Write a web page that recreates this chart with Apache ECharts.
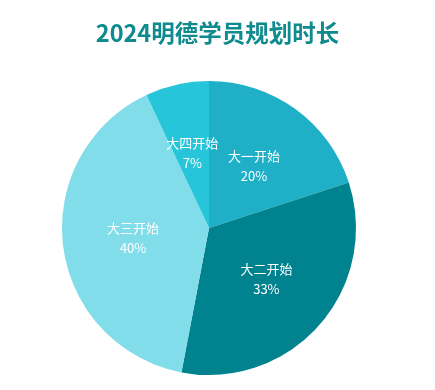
<!DOCTYPE html>
<html><head><meta charset="utf-8">
<script src="https://cdn.jsdelivr.net/npm/echarts@6/dist/echarts.min.js"></script>
<style>html,body{margin:0;padding:0;background:#fff}#c{width:435px;height:390px}</style>
</head><body><div id="c"></div>
<script>
const titleText = '2024明德学员规划时长';
const categories = ['大一开始', '大二开始', '大三开始', '大四开始'];
const values = [20, 33, 40, 7];
const colors = ['#1fb0c8', '#00838f', '#80dde9', '#26c5da'];

const chart = echarts.init(document.getElementById('c'));
chart.setOption({
  animation: false,
  title: {
    text: titleText, left: 'center', top: 16,
    textStyle: { fontFamily: 'Noto Sans CJK SC', fontWeight: 'bold', fontSize: 23.5, color: '#0f8a8f' }
  },
  series: [{
    type: 'pie',
    center: [209, 228],
    radius: 147,
    startAngle: 90,
    clockwise: true,
    color: colors,
    itemStyle: { borderWidth: 0 },
    label: {
      show: true, position: 'inside',
      formatter: '{b}\n{d}%',
      color: '#fff', fontSize: 13, lineHeight: 20,
      fontFamily: 'Noto Sans CJK SC'
    },
    labelLine: { show: false },
    data: categories.map((n, i) => ({ name: n, value: values[i] }))
  }]
});
</script></body></html>
